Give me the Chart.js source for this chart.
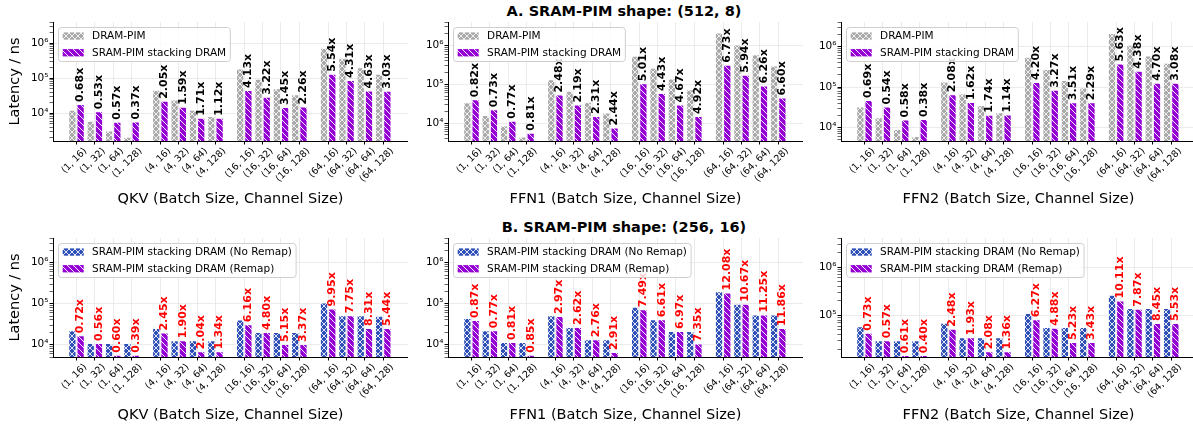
<!DOCTYPE html>
<html>
<head>
<meta charset="utf-8">
<title>SRAM-PIM latency</title>
<script src="https://cdn.jsdelivr.net/npm/chart.js@4.4.1/dist/chart.umd.min.js"></script>
<style>
  body { margin: 0; background: #fff; }
  #page { position: relative; width: 1193px; height: 430px; overflow: hidden; font-family: "DejaVu Sans", sans-serif; }
  #page canvas { position: absolute; }
  .suptitle { position: absolute; left: 424px; width: 400px; text-align: center; font-weight: bold; font-size: 14.5px; line-height: 16px; color: #000; }
</style>
</head>
<body>
<div id="page">
  <div class="suptitle" style="top:3px">A. SRAM-PIM shape: (512, 8)</div>
  <div class="suptitle" style="top:219px">B. SRAM-PIM shape: (256, 16)</div>
</div>
<script>
// (batch size, channel size) pairs on the x axis
const categories = ['(1, 16)', '(1, 32)', '(1, 64)', '(1, 128)',
    '(4, 16)', '(4, 32)', '(4, 64)', '(4, 128)',
    '(16, 16)', '(16, 32)', '(16, 64)', '(16, 128)',
    '(64, 16)', '(64, 32)', '(64, 64)', '(64, 128)'];

// A. SRAM-PIM shape (512, 8) - latency in ns
const qkvDramPim = [12500, 6100, 3250, 2150, 46500, 24500, 12700, 8300, 190000, 96000, 52000, 35000, 740000, 385000, 205000, 134000];
const qkvStackA = [18400, 11500, 5700, 5800, 22700, 15400, 7400, 7400, 46000, 29800, 15100, 15500, 133600, 89300, 44300, 44200];
const qkvSpeedupA = [0.68, 0.53, 0.57, 0.37, 2.05, 1.59, 1.71, 1.12, 4.13, 3.22, 3.45, 2.26, 5.54, 4.31, 4.63, 3.03];

const ffn1DramPim = [34700, 16400, 8700, 4540, 136000, 68000, 35600, 19000, 540000, 265000, 141000, 75000, 2160000, 1050000, 590000, 305000];
const ffn1StackA = [41500, 22900, 11600, 5700, 54700, 30200, 15400, 7800, 107000, 60000, 30200, 15300, 320000, 177000, 94000, 46000];
const ffn1SpeedupA = [0.82, 0.73, 0.77, 0.81, 2.48, 2.19, 2.31, 2.44, 5.01, 4.43, 4.67, 4.92, 6.73, 5.94, 6.26, 6.60];

const ffn2DramPim = [33000, 18000, 9270, 6230, 137000, 69000, 36000, 24000, 560000, 280000, 150000, 97000, 2150000, 1100000, 600000, 395000];
const ffn2StackA = [48000, 33000, 16000, 16400, 66500, 43000, 20800, 21000, 133000, 86000, 42500, 42300, 382000, 252000, 128000, 128000];
const ffn2SpeedupA = [0.69, 0.54, 0.58, 0.38, 2.08, 1.62, 1.74, 1.14, 4.20, 3.27, 3.51, 2.29, 5.63, 4.38, 4.70, 3.08];

// B. SRAM-PIM shape (256, 16)
const qkvNoRemap = [22400, 11000, 11000, 11000, 25600, 12800, 12800, 12800, 40900, 20400, 20400, 20400, 107000, 52200, 52200, 51000];
const qkvRemap = [16900, 11000, 5690, 5690, 19700, 12800, 6870, 6870, 31500, 20400, 10400, 10400, 76200, 52200, 25600, 25600];
const qkvSpeedupB = [0.72, 0.56, 0.60, 0.39, 2.45, 1.90, 2.04, 1.34, 6.16, 4.80, 5.15, 3.37, 9.95, 7.75, 8.31, 5.44];

const ffn1NoRemap = [45000, 22400, 11600, 11600, 52200, 27100, 13500, 13500, 83600, 41700, 21600, 21600, 202000, 100000, 54300, 54300];
const ffn1Remap = [40200, 22400, 11600, 5700, 50300, 27100, 13500, 6610, 73300, 41700, 21600, 10600, 188000, 100000, 54300, 25600];
const ffn1SpeedupB = [0.87, 0.77, 0.81, 0.85, 2.97, 2.62, 2.76, 2.91, 7.49, 6.61, 6.97, 7.35, 12.08, 10.67, 11.25, 11.86];

const ffn2NoRemap = [59200, 30400, 30400, 30400, 70500, 35100, 35100, 35100, 112000, 57400, 57400, 57400, 268000, 142000, 142000, 142000];
const ffn2Remap = [43800, 30400, 14900, 14900, 53000, 35100, 18000, 18000, 82600, 55600, 28000, 28000, 204000, 137000, 69300, 69300];
const ffn2SpeedupB = [0.73, 0.57, 0.61, 0.40, 2.48, 1.93, 2.08, 1.36, 6.27, 4.88, 5.23, 3.43, 10.11, 7.87, 8.45, 5.53];

// y axis lower limits, one per panel (upper limit is shared)
const yMins = [1620, 3500, 4700, 5000, 5000, 13700];
const Y_MAX = 4e6;

// layout
const COL_LEFT = [53, 448, 841];
const ROW_TOP = [22, 238];
const PLOT_W = 355, PLOT_H = 119;
const Y_AXIS_W = 53, X_AXIS_H = 70, TOP_PAD = 22;
const GROUP_GAP = 0.57;
const X_MIN = -1.28, X_MAX = 18.06;
const GRID_COLOR = '#e6e6e6';
const SUP = {3: '³', 4: '⁴', 5: '⁵', 6: '⁶', 7: '⁷'};

Chart.defaults.font.family = '"DejaVu Sans", sans-serif';
Chart.defaults.color = '#000';

// small gap between the four batch groups
const positions = categories.map((c, i) => i + Math.floor(i / 4) * GROUP_GAP);

function hatch(base, cross, lineAlpha) {
    const s = 6;
    const c = document.createElement('canvas');
    c.width = s;
    c.height = s;
    const g = c.getContext('2d');
    g.fillStyle = base;
    g.fillRect(0, 0, s, s);
    g.strokeStyle = 'rgba(255,255,255,' + lineAlpha + ')';
    g.lineWidth = 1;
    g.beginPath();
    g.moveTo(-1, -1); g.lineTo(s + 1, s + 1);
    g.moveTo(-1, s - 1); g.lineTo(1, s + 1);
    g.moveTo(s - 1, -1); g.lineTo(s + 1, 1);
    if (cross) {
        g.moveTo(-1, s + 1); g.lineTo(s + 1, -1);
        g.moveTo(-1, 1); g.lineTo(1, -1);
        g.moveTo(s - 1, s + 1); g.lineTo(s + 1, s - 1);
    }
    g.stroke();
    return g.createPattern(c, 'repeat');
}

const grayHatch = hatch('#a9a9a9', true, 0.8);
const purpleHatch = hatch('#9400d3', false, 0.92);
const blueHatch = hatch('#2e50b6', true, 0.85);

function isDecade(v) {
    const e = Math.log10(v);
    return Math.abs(e - Math.round(e)) < 1e-6;
}

function isLogTick(v) {
    const m = v / Math.pow(10, Math.floor(Math.log10(v) + 1e-9));
    return Math.abs(m - Math.round(m)) < 1e-6;
}

function makeChart(p) {
    const canvas = document.createElement('canvas');
    canvas.width = Y_AXIS_W + PLOT_W;
    canvas.height = TOP_PAD + PLOT_H + X_AXIS_H;
    canvas.style.left = (COL_LEFT[p.col] - Y_AXIS_W) + 'px';
    canvas.style.top = (ROW_TOP[p.row] - TOP_PAD) + 'px';
    document.getElementById('page').appendChild(canvas);

    // rotated "x.xx" speedup text above the second bar of each pair
    const speedupLabels = {
        id: 'speedupLabels',
        afterDatasetsDraw(chart) {
            const ctx = chart.ctx;
            const meta = chart.getDatasetMeta(1);
            ctx.save();
            ctx.font = 'bold 11px "DejaVu Sans"';
            ctx.fillStyle = p.labelColor;
            ctx.textAlign = 'left';
            ctx.textBaseline = 'middle';
            meta.data.forEach((bar, i) => {
                ctx.save();
                ctx.translate(bar.x, bar.y - 2);
                ctx.rotate(-Math.PI / 2);
                ctx.fillText(p.speedup[i].toFixed(2) + 'x', 0, 0);
                ctx.restore();
            });
            ctx.restore();
        }
    };

    // matplotlib style legend box inside the plot, drawn over everything
    const boxLegend = {
        id: 'boxLegend',
        afterDraw(chart) {
            const ctx = chart.ctx;
            const area = chart.chartArea;
            const sets = chart.data.datasets;
            ctx.save();
            ctx.font = '10.5px "DejaVu Sans"';
            const textW = Math.max(...sets.map(d => ctx.measureText(d.label).width));
            const pad = 4.2, handleW = 21, gap = 8.4;
            const x0 = area.left + 5.5, y0 = area.top + 5.5;
            const w = pad * 2 + handleW + gap + textW, h = 34;
            ctx.beginPath();
            ctx.roundRect(x0, y0, w, h, 3);
            ctx.fillStyle = 'rgba(255,255,255,0.8)';
            ctx.fill();
            ctx.strokeStyle = '#cfcfcf';
            ctx.lineWidth = 1;
            ctx.stroke();
            ctx.textBaseline = 'middle';
            sets.forEach((d, i) => {
                const cy = y0 + 8.5 + i * 16.7;
                ctx.fillStyle = d.backgroundColor;
                ctx.fillRect(x0 + pad, cy - 3.6, handleW, 7.3);
                ctx.fillStyle = '#000';
                ctx.fillText(d.label, x0 + pad + handleW + gap, cy + 0.5);
            });
            ctx.restore();
        }
    };

    const toPoints = vals => vals.map((v, i) => ({x: positions[i], y: v}));

    return new Chart(canvas, {
        type: 'bar',
        data: {
            datasets: [{
                label: p.names[0],
                data: toPoints(p.first),
                backgroundColor: p.colors[0],
                borderColor: 'rgba(255,255,255,0.5)',
                borderWidth: 1
            }, {
                label: p.names[1],
                data: toPoints(p.second),
                backgroundColor: p.colors[1],
                borderColor: 'rgba(255,255,255,0.5)',
                borderWidth: 1
            }]
        },
        options: {
            responsive: false,
            animation: false,
            devicePixelRatio: 1,
            layout: {padding: {top: TOP_PAD, left: 0, right: 0, bottom: 0}},
            datasets: {bar: {categoryPercentage: 0.9, barPercentage: 1}},
            plugins: {legend: {display: false}, tooltip: {enabled: false}},
            scales: {
                x: {
                    type: 'linear',
                    min: X_MIN,
                    max: X_MAX,
                    offset: false,
                    afterBuildTicks: s => { s.ticks = positions.map(v => ({value: v})); },
                    afterFit: s => { s.height = X_AXIS_H; },
                    border: {color: '#000', width: 1},
                    grid: {offset: false, color: GRID_COLOR, lineWidth: 0.8, tickColor: '#000', tickLength: 3.5, tickWidth: 1},
                    ticks: {
                        autoSkip: false, maxRotation: 45, minRotation: 45, labelOffset: 9, padding: 1,
                        color: '#000', font: {size: 9.5},
                        callback: (v, i) => categories[i]
                    },
                    title: {display: true, text: p.xTitle, font: {size: 14.5}, color: '#000', padding: {top: 0, bottom: 3}}
                },
                y: {
                    type: 'logarithmic',
                    min: p.yMin,
                    max: Y_MAX,
                    afterFit: s => { s.width = Y_AXIS_W; },
                    border: {color: '#000', width: 1},
                    grid: {
                        color: c => isDecade(c.tick.value) ? GRID_COLOR : 'rgba(0,0,0,0)',
                        lineWidth: 0.8,
                        tickColor: c => isLogTick(c.tick.value) ? '#000' : 'rgba(0,0,0,0)',
                        tickWidth: c => isDecade(c.tick.value) ? 1 : 0.6,
                        tickLength: 3.5
                    },
                    ticks: {
                        autoSkip: false, padding: 1, color: '#000', font: {size: 10.5},
                        callback: v => isDecade(v) ? '10' + SUP[Math.round(Math.log10(v))] : ''
                    },
                    title: {display: p.col === 0, text: 'Latency / ns', font: {size: 14.5}, color: '#000', padding: {top: 7, bottom: 0}}
                }
            }
        },
        plugins: [speedupLabels, boxLegend]
    });
}

const topNames = ['DRAM-PIM', 'SRAM-PIM stacking DRAM'];
const bottomNames = ['SRAM-PIM stacking DRAM (No Remap)', 'SRAM-PIM stacking DRAM (Remap)'];

makeChart({row: 0, col: 0, xTitle: 'QKV (Batch Size, Channel Size)', names: topNames, colors: [grayHatch, purpleHatch],
    first: qkvDramPim, second: qkvStackA, speedup: qkvSpeedupA, labelColor: '#000', yMin: yMins[0]});
makeChart({row: 0, col: 1, xTitle: 'FFN1 (Batch Size, Channel Size)', names: topNames, colors: [grayHatch, purpleHatch],
    first: ffn1DramPim, second: ffn1StackA, speedup: ffn1SpeedupA, labelColor: '#000', yMin: yMins[1]});
makeChart({row: 0, col: 2, xTitle: 'FFN2 (Batch Size, Channel Size)', names: topNames, colors: [grayHatch, purpleHatch],
    first: ffn2DramPim, second: ffn2StackA, speedup: ffn2SpeedupA, labelColor: '#000', yMin: yMins[2]});
makeChart({row: 1, col: 0, xTitle: 'QKV (Batch Size, Channel Size)', names: bottomNames, colors: [blueHatch, purpleHatch],
    first: qkvNoRemap, second: qkvRemap, speedup: qkvSpeedupB, labelColor: '#ff0000', yMin: yMins[3]});
makeChart({row: 1, col: 1, xTitle: 'FFN1 (Batch Size, Channel Size)', names: bottomNames, colors: [blueHatch, purpleHatch],
    first: ffn1NoRemap, second: ffn1Remap, speedup: ffn1SpeedupB, labelColor: '#ff0000', yMin: yMins[4]});
makeChart({row: 1, col: 2, xTitle: 'FFN2 (Batch Size, Channel Size)', names: bottomNames, colors: [blueHatch, purpleHatch],
    first: ffn2NoRemap, second: ffn2Remap, speedup: ffn2SpeedupB, labelColor: '#ff0000', yMin: yMins[5]});
</script>
</body>
</html>
